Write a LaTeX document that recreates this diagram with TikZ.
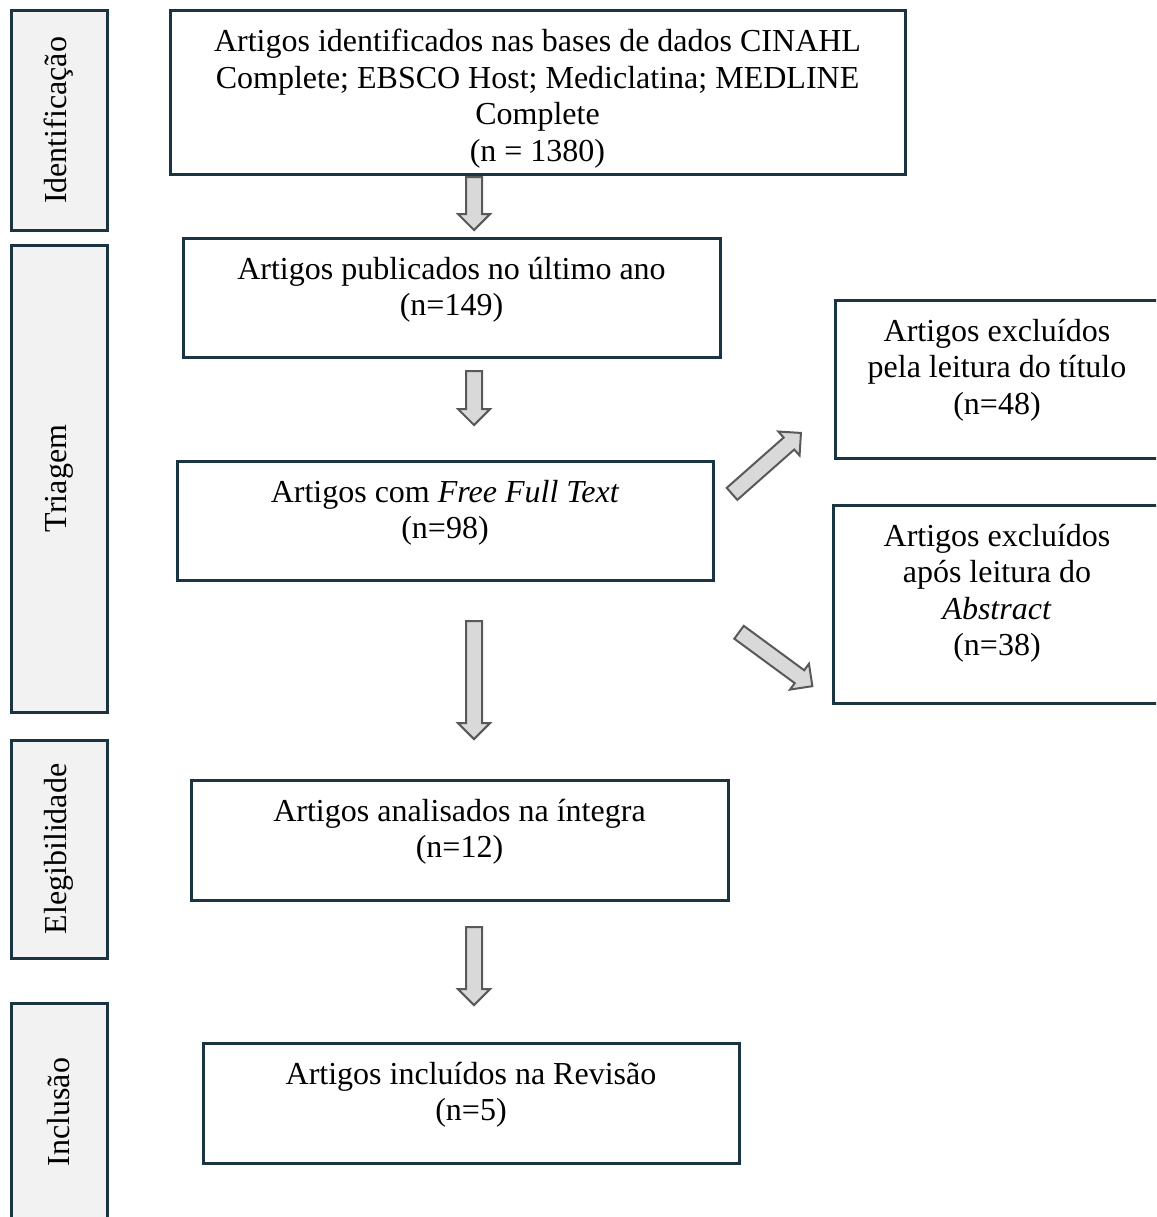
\documentclass[tikz,border=0pt]{standalone}
\usepackage{fontspec}
\setmainfont{Liberation Serif}
\usetikzlibrary{positioning,calc,shapes.arrows}

\definecolor{navy}{HTML}{1B3442}
\definecolor{stagefill}{HTML}{F2F2F2}
\definecolor{arrfill}{HTML}{D9D9D9}
\definecolor{arrline}{HTML}{595959}

\tikzstyle{StageBox} = [draw=navy, line width=3pt, fill=stagefill, inner sep=0pt, minimum width=96pt]
\tikzstyle{FlowBox} = [draw=navy, line width=3pt, fill=white, align=center, inner sep=0pt]
\tikzstyle{BlockArrow} = [single arrow, draw=arrline, fill=arrfill, line width=2pt, inner sep=0pt, inner ysep=7pt,
  single arrow head extend=8pt, single arrow tip angle=90, sloped, allow upside down, pos=1, anchor=tip]

\begin{document}
\begin{tikzpicture}[x=1pt, y=-1pt, font=\fontsize{32}{36.5}\selectfont]

    \path[use as bounding box, clip] (0,0) rectangle (1156,1217);

    % stages on the left
    \node[StageBox, minimum height=219pt] (stIdent) at (59,120.5) {\rotatebox{90}{Identificação}};
    \node[StageBox, minimum height=467pt] (stTriag) [below = 12pt of stIdent] {\rotatebox{90}{Triagem}};
    \node[StageBox, minimum height=218pt] (stEleg) [below = 25pt of stTriag] {\rotatebox{90}{Elegibilidade}};
    \node[StageBox, minimum height=218pt] (stIncl) [below = 42pt of stEleg] {\rotatebox{90}{Inclusão}};

    % main flow (baseline of the last line: text height = 41pt + one line per extra line)
    \node[FlowBox, minimum width=735pt, text height=150.5pt, text depth=13.5pt] (idn) at (537.5,93)
      {Artigos identificados nas bases de dados CINAHL\\Complete; EBSCO Host; Mediclatina; MEDLINE\\Complete\\(n = 1380)};
    \node[FlowBox, minimum width=537pt, text height=77.5pt, text depth=41.5pt] (publ) [below = 60pt of idn, xshift=-86pt]
      {Artigos publicados no último ano\\(n=149)};
    \node[FlowBox, minimum width=536pt, text height=77.5pt, text depth=41.5pt] (frt) [below = 101pt of publ, xshift=-6.5pt]
      {Artigos com \textit{Free Full Text}\\(n=98)};
    \node[FlowBox, minimum width=537pt, text height=77.5pt, text depth=42.5pt] (integ) [below = 197pt of frt, xshift=14.5pt]
      {Artigos analisados na íntegra\\(n=12)};
    \node[FlowBox, minimum width=536pt, text height=77.5pt, text depth=42.5pt] (incl) [below = 140pt of integ, xshift=11.5pt]
      {Artigos incluídos na Revisão\\(n=5)};

    % excluded
    \node[FlowBox, minimum width=324pt, text height=114pt, text depth=44pt] (extit) [right = 119pt of frt, yshift=141.5pt]
      {Artigos excluídos\\pela leitura do título\\(n=48)};
    \node[FlowBox, minimum width=327pt, text height=150.5pt, text depth=47.5pt] (exabs) [below = 44pt of extit]
      {Artigos excluídos\\após leitura do\\\textit{Abstract}\\(n=38)};

    % arrows
    \coordinate (axis) at (474,0);
    \path (axis |- idn.south) -- node[BlockArrow, minimum height=53pt] {} ($(axis |- publ.north)+(0,-5)$);
    \path (axis |- publ.south) -- node[BlockArrow, minimum height=54pt] {} ($(axis |- frt.north)+(0,-33)$);
    \path (axis |- frt.south) -- node[BlockArrow, minimum height=118pt] {} ($(axis |- integ.north)+(0,-38)$);
    \path (axis |- integ.south) -- node[BlockArrow, minimum height=78pt] {} ($(axis |- incl.north)+(0,-35)$);
    \path ($(frt.north east)+(18.5,33.5)$) -- node[BlockArrow, minimum height=92pt] {} ($(extit.south west)+(-31.5,-27.5)$);
    \path ($(frt.south east)+(25.5,51.5)$) -- node[BlockArrow, minimum height=91pt] {} ($(exabs.south west)+(-18.5,-17.5)$);
  \end{tikzpicture}
\end{document}
